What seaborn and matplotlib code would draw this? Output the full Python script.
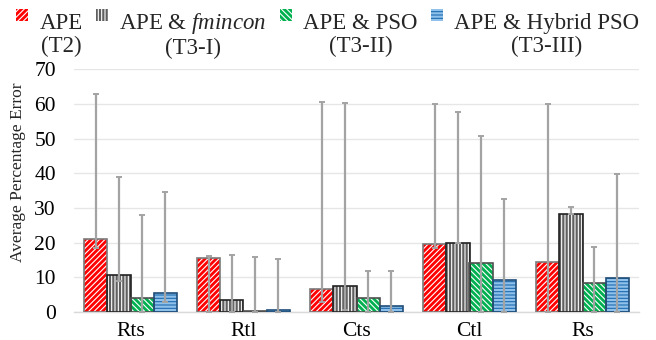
import numpy as np
import pandas as pd
import matplotlib
matplotlib.use("Agg")
import matplotlib.pyplot as plt
import seaborn as sns
from matplotlib.patches import Rectangle
from matplotlib.legend_handler import HandlerBase

# ---- data -------------------------------------------------------------
categories = ["Rts", "Rtl", "Cts", "Ctl", "Rs"]
methods = ["T2", "T3-I", "T3-II", "T3-III"]
legend_labels = ["APE\n(T2)",
                 "APE & $\\mathit{fmincon}$\n(T3-I)",
                 "APE & PSO\n(T3-II)",
                 "APE & Hybrid PSO\n(T3-III)"]

ape_t2 = [21.0, 15.5, 6.7, 19.7, 14.3]
ape_fmincon = [10.6, 3.4, 7.4, 20.0, 28.3]
ape_pso = [3.9, 0.2, 4.0, 14.0, 8.3]
ape_hybrid = [5.4, 0.6, 1.6, 9.2, 9.9]

# error bar extremes (max / min of the error distribution)
max_t2 = [63.0, 16.2, 60.5, 60.1, 60.1]
max_fmincon = [38.8, 16.4, 60.2, 57.7, 30.4]
max_pso = [28.1, 15.8, 11.7, 50.8, 18.8]
max_hybrid = [34.5, 15.2, 11.9, 32.7, 39.8]

min_t2 = [18.5, 0.0, 2.9, 18.4, 0.0]
min_fmincon = [8.8, 0.0, 0.5, 20.0, 28.3]
min_pso = [0.0, 0.0, 0.0, 0.0, 0.0]
min_hybrid = [3.0, 0.0, 0.0, 0.0, 0.0]

y_ticks = [0, 10, 20, 30, 40, 50, 60, 70]

values = [ape_t2, ape_fmincon, ape_pso, ape_hybrid]
maxima = [max_t2, max_fmincon, max_pso, max_hybrid]
minima = [min_t2, min_fmincon, min_pso, min_hybrid]

df = pd.DataFrame({
    "category": np.tile(categories, len(methods)),
    "method": np.repeat(methods, len(categories)),
    "value": np.concatenate(values),
})

# ---- style ------------------------------------------------------------
sns.set_theme(style="white")
plt.rcParams["font.family"] = ["Liberation Serif", "DejaVu Serif"]
plt.rcParams["mathtext.fontset"] = "custom"
plt.rcParams["mathtext.rm"] = "Liberation Serif"
plt.rcParams["mathtext.it"] = "Liberation Serif:italic"
plt.rcParams["hatch.linewidth"] = 0.8

styles = [
    # face, hatch, hatch colour, outline
    dict(face="#ff0000", hatch="//////", hcol="white", edge="#7a7a7a"),
    dict(face="#5f5f5f", hatch="|||||", hcol="white", edge="#222222"),
    dict(face="#00b050", hatch="\\\\\\\\\\\\", hcol="white", edge="#505050"),
    dict(face="#8fc1ea", hatch="-----", hcol="#1f6cb0", edge="#1f4e79"),
]

fig = plt.figure(figsize=(6.56, 3.4), dpi=100)
ax = fig.add_axes([74 / 656, 28 / 340, 565 / 656, 242.7 / 340])

sns.barplot(data=df, x="category", y="value", hue="method",
            order=categories, hue_order=methods,
            palette=[s["face"] for s in styles],
            width=0.815, gap=0, errorbar=None, legend=False,
            saturation=1, ax=ax, zorder=2)

for cont, st, hi, lo, val in zip(ax.containers, styles, maxima, minima, values):
    xs = []
    for patch in cont.patches:
        patch.set_facecolor(st["face"])
        patch.set_edgecolor(st["hcol"])
        patch.set_hatch(st["hatch"])
        patch.set_linewidth(0)
        outline = Rectangle(patch.get_xy(), patch.get_width(), patch.get_height(),
                            fill=False, edgecolor=st["edge"], linewidth=1.2, zorder=3)
        ax.add_patch(outline)
        xs.append(patch.get_x() + patch.get_width() / 2)
    v = np.array(val)
    yerr = np.vstack([v - np.array(lo), np.array(hi) - v])
    ax.errorbar(xs, v, yerr=yerr, fmt="none", ecolor="#a3a3a3", elinewidth=1.6,
                capsize=2.5, capthick=1.4, zorder=4)

ax.set_ylim(0, 70)
ax.set_yticks(y_ticks)
ax.set_xlim(-0.5, len(categories) - 0.5)
ax.grid(axis="y", color="#e6e6e6", linewidth=1, zorder=0)
ax.set_axisbelow(True)
for side in ["top", "right", "left"]:
    ax.spines[side].set_visible(False)
ax.spines["bottom"].set_color("#d9d9d9")
ax.spines["bottom"].set_linewidth(1)
ax.tick_params(axis="both", length=0, labelsize=15.5, colors="black")
ax.tick_params(axis="y", pad=13)
ax.tick_params(axis="x", pad=7)
ax.set_xlabel("")
ax.set_ylabel("Average Percentage Error", fontsize=12.5)
ax.yaxis.set_label_coords(-0.085, 0.575)


class TopSquareHandler(HandlerBase):
    """Legend key drawn as a small square next to the first text line."""

    def create_artists(self, legend, orig_handle, xdescent, ydescent,
                       width, height, fontsize, trans):
        s = 0.52 * fontsize
        rect = Rectangle((-xdescent + (width - s) / 2, 0.97 * fontsize), s, s,
                         transform=trans)
        rect.set_facecolor(orig_handle.get_facecolor())
        rect.set_edgecolor(orig_handle.get_edgecolor())
        rect.set_hatch(orig_handle.get_hatch())
        rect.set_linewidth(0)
        return [rect]


handles = [Rectangle((0, 0), 1, 1, facecolor=s["face"], edgecolor=s["hcol"],
                     hatch=s["hatch"]) for s in styles]
leg = fig.legend(handles, legend_labels, loc="upper left",
                 bbox_to_anchor=(13 / 656, 0.975), ncol=4, frameon=False,
                 fontsize=16.5, handlelength=0.6, handletextpad=0.45,
                 columnspacing=0.55, borderpad=0.1, borderaxespad=0,
                 handler_map={Rectangle: TopSquareHandler()})
for t in leg.get_texts():
    t.set_multialignment("center")
    t.set_linespacing(1.15)

fig.savefig("out.png", dpi=100)
